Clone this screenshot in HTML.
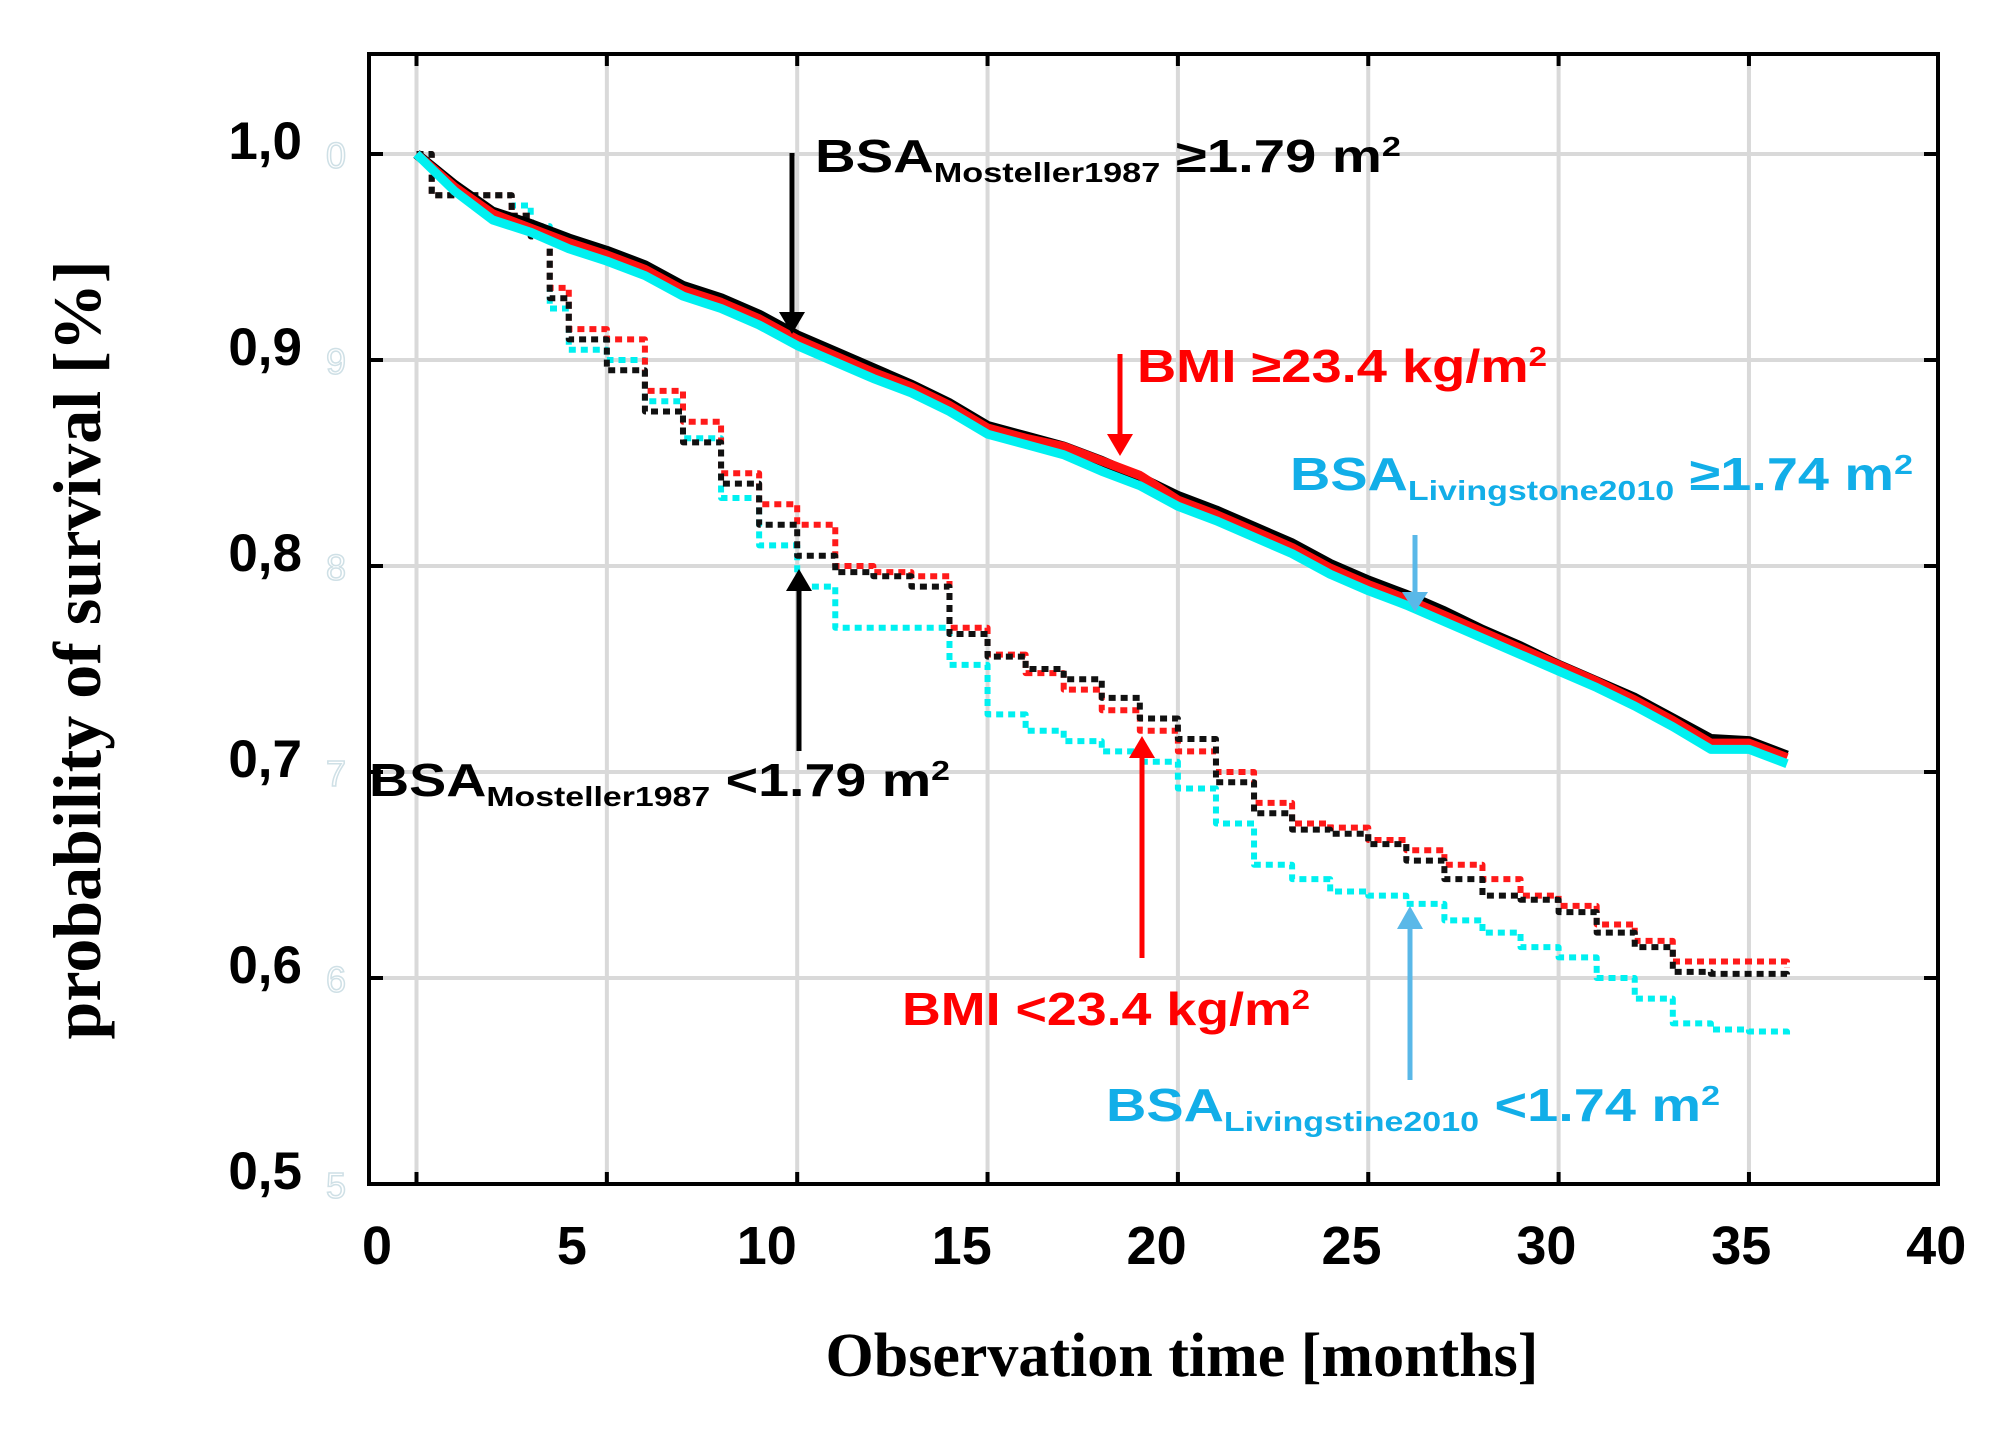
<!DOCTYPE html>
<html><head><meta charset="utf-8"><style>
html,body{margin:0;padding:0;background:#fff;}
svg{display:block;}
text{font-family:"Liberation Sans",Arial,sans-serif;font-weight:bold;}
</style></head><body>
<svg id="chart" width="1997" height="1446" viewBox="0 0 1997 1446" xmlns="http://www.w3.org/2000/svg">
<g id="grid"></g>
<g id="series"></g>
<g id="axes"></g>
<g id="annot">
 <text x="815" y="172" font-size="46" fill="#000" textLength="586" lengthAdjust="spacingAndGlyphs">BSA<tspan font-size="28" dy="10">Mosteller1987</tspan><tspan dy="-10"> ≥1.79 m</tspan><tspan font-size="28" dy="-16">2</tspan></text>
 <text x="1137" y="382" font-size="46" fill="#ff0000" textLength="410" lengthAdjust="spacingAndGlyphs">BMI ≥23.4 kg/m<tspan font-size="28" dy="-16">2</tspan></text>
 <text x="1290" y="490" font-size="46" fill="#12aee8" textLength="623" lengthAdjust="spacingAndGlyphs">BSA<tspan font-size="28" dy="10">Livingstone2010</tspan><tspan dy="-10"> ≥1.74 m</tspan><tspan font-size="28" dy="-16">2</tspan></text>
 <text x="369" y="796" font-size="46" fill="#000" textLength="581" lengthAdjust="spacingAndGlyphs">BSA<tspan font-size="28" dy="10">Mosteller1987</tspan><tspan dy="-10"> &lt;1.79 m</tspan><tspan font-size="28" dy="-16">2</tspan></text>
 <text x="902" y="1025" font-size="46" fill="#ff0000" textLength="408" lengthAdjust="spacingAndGlyphs">BMI &lt;23.4 kg/m<tspan font-size="28" dy="-16">2</tspan></text>
 <text x="1106" y="1121" font-size="46" fill="#12aee8" textLength="614" lengthAdjust="spacingAndGlyphs">BSA<tspan font-size="28" dy="10">Livingstine2010</tspan><tspan dy="-10"> &lt;1.74 m</tspan><tspan font-size="28" dy="-16">2</tspan></text>
 <g><line x1="792" y1="153" x2="792" y2="316" stroke="#000" stroke-width="5"/><polygon points="779,312 805,312 792,334" fill="#000"/></g>
 <g><line x1="1120" y1="354" x2="1120" y2="438" stroke="#ff0000" stroke-width="5"/><polygon points="1107,434 1133,434 1120,456" fill="#ff0000"/></g>
 <g><line x1="1415" y1="535" x2="1415" y2="596" stroke="#5ab8e8" stroke-width="5"/><polygon points="1402,592 1428,592 1415,612" fill="#5ab8e8"/></g>
 <g><line x1="799" y1="751" x2="799" y2="587" stroke="#000" stroke-width="5"/><polygon points="786,591 812,591 799,569" fill="#000"/></g>
 <g><line x1="1142" y1="958" x2="1142" y2="754" stroke="#ff0000" stroke-width="5"/><polygon points="1129,758 1155,758 1142,736" fill="#ff0000"/></g>
 <g><line x1="1410" y1="1080" x2="1410" y2="925" stroke="#5ab8e8" stroke-width="5"/><polygon points="1397,929 1423,929 1410,906" fill="#5ab8e8"/></g>
</g>
<text x="1182" y="1376" font-size="62" text-anchor="middle" style="font-family:'Liberation Serif',serif">Observation time [months]</text>
<text transform="translate(100,650) rotate(-90)" font-size="68" text-anchor="middle" style="font-family:'Liberation Serif',serif">probability of survival [%]</text>
</svg>
<script>
const xTicks = [0,5,10,15,20,25,30,35,40];
const yTicks = [0.5,0.6,0.7,0.8,0.9,1.0];
const yTickLabels = ["0,5","0,6","0,7","0,8","0,9","1,0"];
const timeUpper = [0,1,2,3,4,5,6,7,8,9,10,11,12,13,14,15,16,17,18,19,20,21,22,23,24,25,26,27,28,29,30,31,32,33,34,35,36];
const blackUpper = [1.0,0.985,0.972,0.966,0.959,0.953,0.946,0.936,0.93,0.922,0.912,0.904,0.896,0.888,0.879,0.868,0.863,0.858,0.851,0.843,0.834,0.827,0.819,0.811,0.801,0.793,0.786,0.778,0.769,0.761,0.752,0.744,0.736,0.726,0.716,0.715,0.708];
const redUpper = [1.0,0.984,0.971,0.964,0.957,0.951,0.944,0.934,0.928,0.92,0.91,0.902,0.894,0.887,0.878,0.867,0.862,0.858,0.851,0.844,0.832,0.825,0.817,0.809,0.799,0.791,0.784,0.776,0.768,0.76,0.752,0.744,0.735,0.725,0.714,0.714,0.707];
const cyanUpper = [1.0,0.982,0.968,0.962,0.954,0.948,0.941,0.931,0.925,0.917,0.907,0.899,0.891,0.884,0.875,0.864,0.859,0.854,0.846,0.839,0.829,0.822,0.814,0.806,0.796,0.788,0.781,0.773,0.765,0.757,0.749,0.741,0.732,0.722,0.711,0.711,0.704];
const timeLower = [0,0.4,2.5,3,3.5,4,5,6,7,8,9,10,11,12,13,14,15,16,17,18,19,20,21,22,23,24,25,26,27,28,29,30,31,32,33,34,35,36];
const redLower = [1.0,0.98,0.97,0.96,0.935,0.915,0.91,0.885,0.87,0.845,0.83,0.82,0.8,0.797,0.795,0.77,0.757,0.748,0.74,0.73,0.72,0.71,0.70,0.685,0.675,0.673,0.667,0.662,0.655,0.648,0.64,0.635,0.626,0.618,0.608,0.608,0.608,0.605];
const blackLower = [1.0,0.98,0.97,0.96,0.93,0.91,0.895,0.875,0.86,0.84,0.82,0.805,0.797,0.795,0.79,0.767,0.756,0.75,0.745,0.736,0.726,0.716,0.695,0.68,0.672,0.67,0.665,0.657,0.648,0.64,0.638,0.632,0.622,0.615,0.603,0.602,0.602,0.60];
const cyanLower = [1.0,0.98,0.975,0.965,0.925,0.905,0.9,0.88,0.862,0.833,0.81,0.79,0.77,0.77,0.77,0.752,0.728,0.72,0.715,0.71,0.705,0.692,0.675,0.655,0.648,0.642,0.64,0.636,0.628,0.622,0.615,0.61,0.60,0.59,0.578,0.575,0.574,0.572];

const NS = "http://www.w3.org/2000/svg";
const L = 369, R = 1938, T = 54, B = 1184;
const X0 = 416.5, XPER = 38.07;
function sx(v){ return X0 + v * XPER; }
function sxLabel(v){ return 377 + v * 38.98; }
function sy(v){ return B - (v - 0.5) / 0.1 * 206; }
function mk(tag, attrs, parent){ const e = document.createElementNS(NS, tag); for (const k in attrs) e.setAttribute(k, attrs[k]); parent.appendChild(e); return e; }

const grid = document.getElementById('grid');
const axes = document.getElementById('axes');
const series = document.getElementById('series');

xTicks.forEach(function(t){
  if (t < 40) {
    const g = mk('line', {x1:sx(t), x2:sx(t), y1:T, y2:B, stroke:'#d9d9d9', 'stroke-width':4}, grid);
    
    
    mk('line', {x1:sx(t), x2:sx(t), y1:B-12, y2:B, stroke:'#000', 'stroke-width':4}, axes);
    mk('line', {x1:sx(t), x2:sx(t), y1:T, y2:T+12, stroke:'#000', 'stroke-width':4}, axes);
  }
  const lb = mk('text', {x:sxLabel(t), y:1264, 'font-size':54, 'text-anchor':'middle'}, axes);
  lb.textContent = String(t);
  
  
});
yTicks.forEach(function(t, i){
  if (t > 0.5) {
    const g = mk('line', {x1:L, x2:R, y1:sy(t), y2:sy(t), stroke:'#d9d9d9', 'stroke-width':4}, grid);
    
    
    mk('line', {x1:L, x2:L+14, y1:sy(t), y2:sy(t), stroke:'#000', 'stroke-width':4}, axes);
    mk('line', {x1:R-14, x2:R, y1:sy(t), y2:sy(t), stroke:'#000', 'stroke-width':4}, axes);
  }
  const lb = mk('text', {x:302, y:sy(t)+5, 'font-size':53, 'text-anchor':'end'}, axes);
  lb.textContent = yTickLabels[i];
  
  
  const gh = mk('text', {x:336, y:sy(t)+14, 'font-size':36, 'text-anchor':'middle', fill:'none', stroke:'#cfe0e6', 'stroke-width':1.5, style:'font-weight:normal'}, axes);
  gh.textContent = String(Math.round(t*10) % 10);
  
  
});
const frame = mk('rect', {x:L, y:T, width:R-L, height:B-T, fill:'none', stroke:'#000', 'stroke-width':4}, axes);



function stepPath(ts, vs){
  let d = 'M' + sx(ts[0]) + ',' + sy(vs[0]);
  for (let i = 1; i < ts.length; i++){
    d += ' H' + sx(ts[i]) + ' V' + sy(vs[i]);
  }
  return d;
}
function linePath(ts, vs){
  let d = 'M' + sx(ts[0]) + ',' + sy(vs[0]);
  for (let i = 1; i < ts.length; i++){
    d += ' L' + sx(ts[i]) + ',' + sy(vs[i]);
  }
  return d;
}
function drawSeries(d, color, w, dash, name){
  const p = mk('path', {d:d, fill:'none', stroke:color, 'stroke-width':w, 'stroke-linejoin':'round'}, series);
  if (dash) p.setAttribute('stroke-dasharray', dash);
  
  
}
drawSeries(stepPath(timeLower, cyanLower), '#00f0f0', 6, '7 5', 'line-bsa-livingstone-low');
drawSeries(stepPath(timeLower, redLower), '#ff1a1a', 6, '7 5', 'line-bmi-low');
drawSeries(stepPath(timeLower, blackLower), '#111', 6, '7 5', 'line-bsa-mosteller-low');
drawSeries(linePath(timeUpper, blackUpper), '#000', 10, null, 'line-bsa-mosteller-high');
drawSeries(linePath(timeUpper, redUpper), '#ff1010', 9, null, 'line-bmi-high');
drawSeries(linePath(timeUpper, cyanUpper), '#00f0f0', 9, null, 'line-bsa-livingstone-high');
</script>
</body></html>
